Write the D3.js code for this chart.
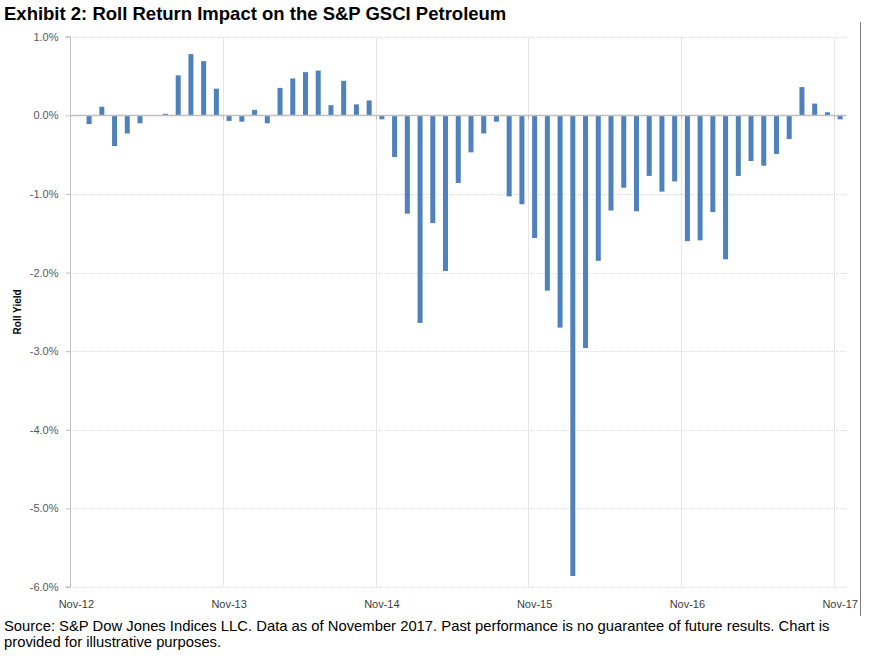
<!DOCTYPE html>
<html>
<head>
<meta charset="utf-8">
<script src="https://cdn.jsdelivr.net/npm/d3@7"></script>
<style>
  html, body { margin: 0; padding: 0; background: #ffffff; }
  svg { display: block; }
</style>
</head>
<body>
<svg id="chart" width="870" height="657"></svg>
<script>
// Monthly categories Nov-12 .. Nov-17
const months = ["Jan","Feb","Mar","Apr","May","Jun","Jul","Aug","Sep","Oct","Nov","Dec"];
const categories = [];
for (let yy = 12, mm = 10; !(yy === 17 && mm === 11); ) {
  categories.push(months[mm] + "-" + yy);
  mm++; if (mm === 12) { mm = 0; yy++; }
}
// Roll yield values (%), one per month
const rollYield = [
  0.00, -0.11, 0.11, -0.39, -0.23, -0.10, 0.00, 0.02, 0.51, 0.78, 0.69, 0.34,
  -0.07, -0.08, 0.07, -0.10, 0.35, 0.47, 0.55, 0.57, 0.13, 0.44, 0.14, 0.19,
  -0.05, -0.53, -1.25, -2.64, -1.37, -1.98, -0.86, -0.47, -0.23, -0.08, -1.03, -1.13,
  -1.56, -2.23, -2.70, -5.86, -2.96, -1.85, -1.21, -0.92, -1.22, -0.77, -0.97, -0.84,
  -1.60, -1.59, -1.23, -1.83, -0.77, -0.58, -0.64, -0.49, -0.30, 0.36, 0.15, 0.04,
  -0.05
];
const yTicks = [1, 0, -1, -2, -3, -4, -5, -6];
const xLabelCats = ["Nov-12","Nov-13","Nov-14","Nov-15","Nov-16","Nov-17"];

const title = "Exhibit 2: Roll Return Impact on the S&P GSCI Petroleum";
const yTitle = "Roll Yield";
const footer = [
  "Source: S&P Dow Jones Indices LLC. Data as of November 2017. Past performance is no guarantee of future results. Chart is",
  "provided for illustrative purposes."
];

(function () {
const svg = d3.select("#chart");
const pLeft = 70, pRight = 846.5, pTop = 36.8, pBottom = 587;
const font = "Arial, 'Liberation Sans', sans-serif";

const x = d3.scaleBand().domain(categories).range([pLeft, pRight]).paddingInner(0).paddingOuter(0);
const y = d3.scaleLinear().domain([-6, 1]).range([pBottom, pTop]);

// Title
svg.append("text").attr("x", 4).attr("y", 20)
  .attr("font-family", font).attr("font-weight", "bold").attr("font-size", 18.5)
  .attr("fill", "#000").text(title);

// Right frame line
svg.append("line").attr("x1", 860.5).attr("x2", 860.5).attr("y1", 22).attr("y2", 616)
  .attr("stroke", "#7f7f7f").attr("stroke-width", 1);

// Horizontal gridlines (dotted)
svg.append("g").selectAll("line").data(yTicks.filter(d => d !== 0)).join("line")
  .attr("x1", pLeft).attr("x2", pRight)
  .attr("y1", d => Math.round(y(d)) + 0.5).attr("y2", d => Math.round(y(d)) + 0.5)
  .attr("stroke", "#dcdcdc").attr("stroke-width", 1).attr("stroke-dasharray", "1,1");

// Vertical gridlines at year boundaries
const yearBounds = xLabelCats.slice(1);
svg.append("g").selectAll("line").data(yearBounds).join("line")
  .attr("x1", d => Math.round(x(d)) + 0.5).attr("x2", d => Math.round(x(d)) + 0.5)
  .attr("y1", pTop).attr("y2", pBottom)
  .attr("stroke", "#e6e6e6").attr("stroke-width", 1);

// Bars
const bw = 5;
svg.append("g").selectAll("rect").data(categories.map((c, i) => ({c, v: rollYield[i]})).filter(d => d.v !== 0))
  .join("rect")
  .attr("x", d => x(d.c) + x.bandwidth() / 2 - bw / 2)
  .attr("width", bw)
  .attr("y", d => y(Math.max(0, d.v)))
  .attr("height", d => Math.abs(y(d.v) - y(0)))
  .attr("fill", "#4f81bd");

// Zero line
svg.append("line").attr("x1", pLeft).attr("x2", pRight)
  .attr("y1", Math.round(y(0)) + 0.5).attr("y2", Math.round(y(0)) + 0.5)
  .attr("stroke", "#bfbfbf").attr("stroke-width", 1.3);
// small ticks on zero line at year boundaries
svg.append("g").selectAll("line").data(yearBounds).join("line")
  .attr("x1", d => Math.round(x(d)) + 0.5).attr("x2", d => Math.round(x(d)) + 0.5)
  .attr("y1", y(0)).attr("y2", y(0) + 4)
  .attr("stroke", "#bfbfbf").attr("stroke-width", 1);

// Y axis
const yAxis = d3.axisLeft(y).tickValues(yTicks).tickSize(5).tickPadding(7)
  .tickFormat(d => d.toFixed(1) + "%");
const gy = svg.append("g").attr("transform", `translate(${pLeft + 0.5},0)`).call(yAxis);
gy.select(".domain").attr("stroke", "#bfbfbf").attr("d", `M-5,${y(1)}H0V${y(-6)}H-5`);
gy.selectAll(".tick line").attr("stroke", "#bfbfbf");
gy.selectAll(".tick text").attr("font-family", font).attr("font-size", 11).attr("fill", "#595959");

// X axis labels
const xAxis = d3.axisBottom(x).tickValues(xLabelCats).tickSize(0).tickPadding(13);
const gx = svg.append("g").attr("transform", `translate(0,${pBottom})`).call(xAxis);
gx.select(".domain").remove();
gx.selectAll(".tick text").attr("font-family", font).attr("font-size", 11).attr("fill", "#404040");

// Y title
svg.append("text").attr("transform", `translate(21,${(pTop + pBottom) / 2}) rotate(-90)`)
  .attr("text-anchor", "middle").attr("font-family", font).attr("font-weight", "bold")
  .attr("font-size", 10).attr("fill", "#000").text(yTitle);

// Footer
svg.append("g").selectAll("text").data(footer).join("text")
  .attr("x", 4).attr("y", (d, i) => 631 + i * 16)
  .attr("font-family", font).attr("font-size", 14.8).attr("fill", "#000").text(d => d);
})();
</script>
</body>
</html>
